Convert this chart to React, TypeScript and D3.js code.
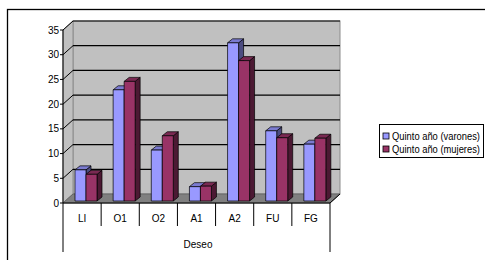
import React from 'react';
import * as d3 from 'd3';

const categories = ['LI', 'O1', 'O2', 'A1', 'A2', 'FU', 'FG'];
const varones = [6.3, 22.5, 10.3, 2.9, 32, 14.2, 11.5];
const mujeres = [5.4, 24.2, 13.2, 3, 28.4, 12.8, 12.7];
const yTicks = [0, 5, 10, 15, 20, 25, 30, 35];
const seriesNames = ['Quinto año (varones)', 'Quinto año (mujeres)'];

const FONT = "'Liberation Sans', Arial, sans-serif";
const FS = 10;

// plot geometry (front plane)
const x0 = 63;
const x1 = 330;
const yTop = 30;
const yBase = 203;
const depthX = 10;
const depthY = 9;

const series = [
  { name: seriesNames[0], values: varones, front: '#9999ff', top: '#7b7bd0', side: '#4c4c80' },
  { name: seriesNames[1], values: mujeres, front: '#993366', top: '#7a2952', side: '#4c1933' },
];

export default function App() {
  const x = d3.scaleBand<string>().domain(categories).range([x0, x1]);
  const y = d3.scaleLinear().domain([0, 35]).range([yBase, yTop]);
  const inner = d3.scaleBand<number>().domain([0, 1]).range([0, 22]);

  const barDx = 3;
  const barDy = 2;
  const bdx = 5;
  const bdy = 4;

  const backLeft = x0 + depthX;
  const backRight = x1 + depthX;

  return (
    <svg
      width={485}
      height={260}
      style={{ position: 'absolute', left: 0, top: 0, background: '#fff' }}
      fontFamily={FONT}
    >
      <rect x={7.5} y={9.5} width={500} height={300} fill="#fff" stroke="#000" strokeWidth={1.3} />

      {/* back wall */}
      <rect
        x={backLeft}
        y={yTop - depthY}
        width={backRight - backLeft}
        height={yBase - yTop}
        fill="#c0c0c0"
        stroke="#8c8c8c"
      />
      {/* side wall */}
      <polygon
        points={`${x0},${yTop} ${backLeft},${yTop - depthY} ${backLeft},${yBase - depthY} ${x0},${yBase}`}
        fill="#c0c0c0"
        stroke="#8c8c8c"
      />
      {/* floor */}
      <polygon
        points={`${x0},${yBase} ${backLeft},${yBase - depthY} ${backRight},${yBase - depthY} ${x1},${yBase}`}
        fill="#808080"
        stroke="#666"
      />

      {/* gridlines */}
      {yTicks.slice(1).map((t) => (
        <g key={t}>
          <line x1={x0} y1={y(t)} x2={backLeft} y2={y(t) - depthY} stroke="#000" />
          <line x1={backLeft} y1={y(t) - depthY} x2={backRight} y2={y(t) - depthY} stroke="#000" strokeWidth={1.2} />
        </g>
      ))}

      {/* bars */}
      {categories.map((c, i) => (
        <g key={c}>
          {series.map((s, k) => {
            const bx = (x(c) as number) + 12 + barDx + (inner(k) as number) - 3;
            const bw = inner.bandwidth();
            const by = y(s.values[i]) - barDy;
            const bb = yBase - barDy;
            return (
              <g key={k} stroke="#000" strokeWidth={0.7} strokeLinejoin="round">
                <polygon
                  points={`${bx + bw},${by} ${bx + bw + bdx},${by - bdy} ${bx + bw + bdx},${bb - bdy} ${bx + bw},${bb}`}
                  fill={s.side}
                />
                <polygon
                  points={`${bx},${by} ${bx + bdx},${by - bdy} ${bx + bw + bdx},${by - bdy} ${bx + bw},${by}`}
                  fill={s.top}
                />
                <rect x={bx} y={by} width={bw} height={bb - by} fill={s.front} />
              </g>
            );
          })}
        </g>
      ))}

      {/* front axis */}
      <line x1={x0} y1={yTop} x2={x0} y2={252} stroke="#000" />
      <line x1={x0} y1={yBase} x2={x1} y2={yBase} stroke="#000" />
      <line x1={x1} y1={yBase} x2={x1} y2={252} stroke="#000" />
      <line x1={x1} y1={yBase} x2={backRight} y2={yBase - depthY} stroke="#000" />
      {categories.slice(1).map((c) => (
        <line key={c} x1={x(c)} y1={yBase} x2={x(c)} y2={226} stroke="#000" />
      ))}

      {yTicks.map((t) => (
        <g key={t}>
          <line x1={x0 - 3} y1={y(t)} x2={x0} y2={y(t)} stroke="#000" />
          <text x={x0 - 4} y={y(t)} dy="0.35em" textAnchor="end" fontSize={FS} fill="#000">
            {t}
          </text>
        </g>
      ))}

      {categories.map((c) => (
        <text
          key={c}
          x={(x(c) as number) + x.bandwidth() / 2}
          y={218}
          dy="0.35em"
          textAnchor="middle"
          fontSize={FS}
          fill="#000"
        >
          {c}
        </text>
      ))}
      <text x={198} y={244} dy="0.35em" textAnchor="middle" fontSize={FS} fill="#000">
        Deseo
      </text>

      {/* legend */}
      <rect x={379.5} y={124.5} width={104} height={33} fill="#fff" stroke="#000" />
      {series.map((s, k) => (
        <g key={k} transform={`translate(383, ${136 + k * 13})`}>
          <rect x={0} y={-3} width={6} height={6} fill={s.front} stroke="#000" strokeWidth={0.8} />
          <text x={9} y={0} dy="0.35em" fontSize={FS} textLength={88} lengthAdjust="spacingAndGlyphs" fill="#000">
            {s.name}
          </text>
        </g>
      ))}
    </svg>
  );
}
